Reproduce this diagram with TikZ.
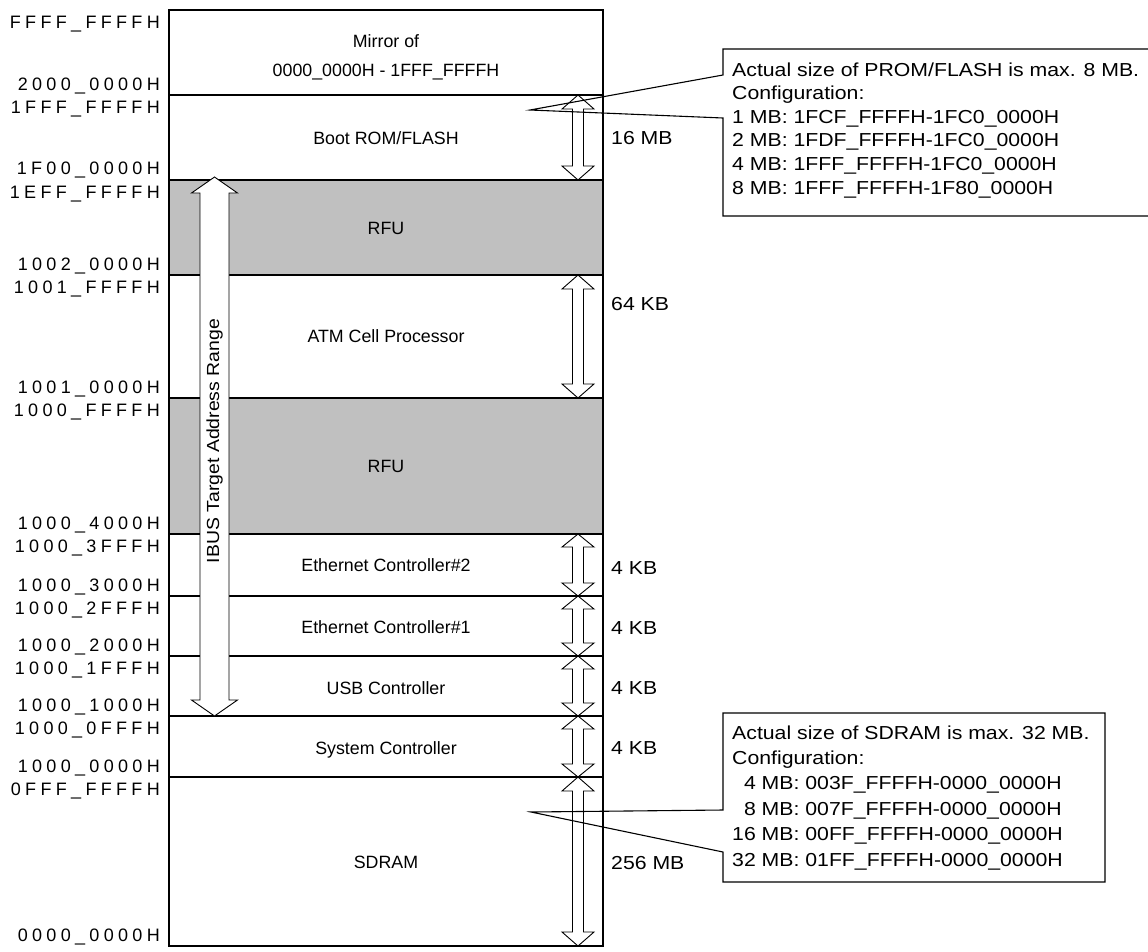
\documentclass[tikz,border=0pt]{standalone}
\usepackage{fontspec}
\setmainfont{Liberation Sans}
\newfontfamily\addrfont[LetterSpace=24]{Liberation Sans}
\newfontfamily\widefont[FakeStretch=1.13]{Liberation Sans}
\newfontfamily\ibusfont[FakeStretch=1.11]{Liberation Sans}
\definecolor{rfugray}{RGB}{192,192,192}
\newcommand\dblarr[6]{% x, ytop, ybot, halfshaft, halfhead, headlen
  \draw[arrowshape] (#1,#2) -- ({#1+#5},{#2+#6}) -- ({#1+#4},{#2+#6}) -- ({#1+#4},{#3-#6}) -- ({#1+#5},{#3-#6}) -- (#1,#3) -- ({#1-#5},{#3-#6}) -- ({#1-#4},{#3-#6}) -- ({#1-#4},{#2+#6}) -- ({#1-#5},{#2+#6}) -- cycle;}
\begin{document}
\begin{tikzpicture}[x=1pt,y=-1pt,
  every node/.style={font=\fontsize{17.8}{21}\selectfont, inner sep=0pt},
  region/.style={anchor=base},
  addr/.style={anchor=base east, font=\addrfont\fontsize{18}{21}\selectfont},
  size/.style={anchor=base west, font=\widefont\fontsize{18.8}{22}\selectfont},
  note/.style={anchor=base west, font=\widefont\fontsize{18.8}{22}\selectfont},
  sep/.style={line width=2.4pt},
  border/.style={line width=2pt},
  rfu/.style={fill=rfugray},
  arrowshape/.style={draw=black, fill=white, line width=0.9pt, line join=miter},
  callout/.style={draw=black, line width=1.1pt, line join=miter}
]
\useasboundingbox (0,0) rectangle (1148,951);
\fill[white] (0,0) rectangle (1148,951);
% grey regions
\fill[rfu] (169,180) rectangle (603,275);
\fill[rfu] (169,398) rectangle (603,534);
% separators
\foreach \y in {95,180,275,398,534,596,656,716,777}
  \draw[sep] (169,\y) -- (603,\y);
\draw[border] (169,10) rectangle (603,946);
% size arrows
\dblarr{578}{95}{180}{5.5}{16}{14}
\dblarr{578}{275}{398}{5.5}{16}{14}
\dblarr{578}{534}{596}{5.5}{16}{13}
\dblarr{578}{596}{656}{5.5}{16}{13}
\dblarr{578}{656}{716}{5.5}{16}{13}
\dblarr{578}{716}{777}{5.5}{16}{13}
\dblarr{578}{777}{946}{5.5}{16}{14}
% IBUS arrow
\dblarr{214.5}{177}{716}{14.5}{23}{16}
\node[rotate=90, font=\ibusfont\fontsize{17.5}{21}\selectfont] (ibus) at (214.5,441) {IBUS Target Address Range};
% region labels
\node[region] (mir1) at (386,47) {Mirror of};
\node[region] (mir2) at (386,76) {0000\_0000H - 1FFF\_FFFFH};
\node[region] (boot) at (386,144) {Boot ROM/FLASH};
\node[region] (rfu1) at (386,234) {RFU};
\node[region] (atm) at (386,342) {ATM Cell Processor};
\node[region] (rfu2) at (386,472) {RFU};
\node[region] (eth2) at (386,571) {Ethernet Controller\#2};
\node[region] (eth1) at (386,633) {Ethernet Controller\#1};
\node[region] (usb) at (386,694) {USB Controller};
\node[region] (sysc) at (386,754) {System Controller};
\node[region] (sdram) at (386,868) {SDRAM};
% sizes
\node[size] (s1) at (611,144) {16 MB};
\node[size] (s2) at (611,310) {64 KB};
\node[size] (s3) at (611,574) {4 KB};
\node[size] (s4) at (611,634) {4 KB};
\node[size] (s5) at (611,694) {4 KB};
\node[size] (s6) at (611,754) {4 KB};
\node[size] (s7) at (611,869) {256 MB};
% addresses
\foreach \t/\yy [count=\i] in {FFFF\_FFFFH/28, 2000\_0000H/90, 1FFF\_FFFFH/113, 1F00\_0000H/174, 1EFF\_FFFFH/198, 1002\_0000H/270, 1001\_FFFFH/293, 1001\_0000H/393, 1000\_FFFFH/416, 1000\_4000H/529, 1000\_3FFFH/552, 1000\_3000H/591, 1000\_2FFFH/614, 1000\_2000H/651, 1000\_1FFFH/674, 1000\_1000H/711, 1000\_0FFFH/734, 1000\_0000H/772, 0FFF\_FFFFH/795, 0000\_0000H/941}
  \node[addr] (a\i) at (160,\yy) {\t};
% callout 1
\draw[callout] (723,75) -- (530,110) -- (723,118) -- (723,216) -- (1150,216) -- (1150,49) -- (723,49) -- cycle;
\foreach \t [count=\i] in {Actual size of PROM/FLASH is max. 8 MB., Configuration:, 1 MB: 1FCF\_FFFFH-1FC0\_0000H, 2 MB: 1FDF\_FFFFH-1FC0\_0000H, 4 MB: 1FFF\_FFFFH-1FC0\_0000H, 8 MB: 1FFF\_FFFFH-1F80\_0000H}
  \node[note] (p\i) at (732,{76+(\i-1)*23.6}) {\t};
% callout 2
\draw[callout] (723,810) -- (531,812) -- (723,852) -- (723,882) -- (1105,882) -- (1105,713) -- (723,713) -- cycle;
\foreach \t [count=\i] in {Actual size of SDRAM is max. 32 MB., Configuration:, \hphantom{1}4 MB: 003F\_FFFFH-0000\_0000H, \hphantom{1}8 MB: 007F\_FFFFH-0000\_0000H, 16 MB: 00FF\_FFFFH-0000\_0000H, 32 MB: 01FF\_FFFFH-0000\_0000H}
  \node[note] (q\i) at (732,{739+(\i-1)*25.4}) {\t};
\end{tikzpicture}
\end{document}
